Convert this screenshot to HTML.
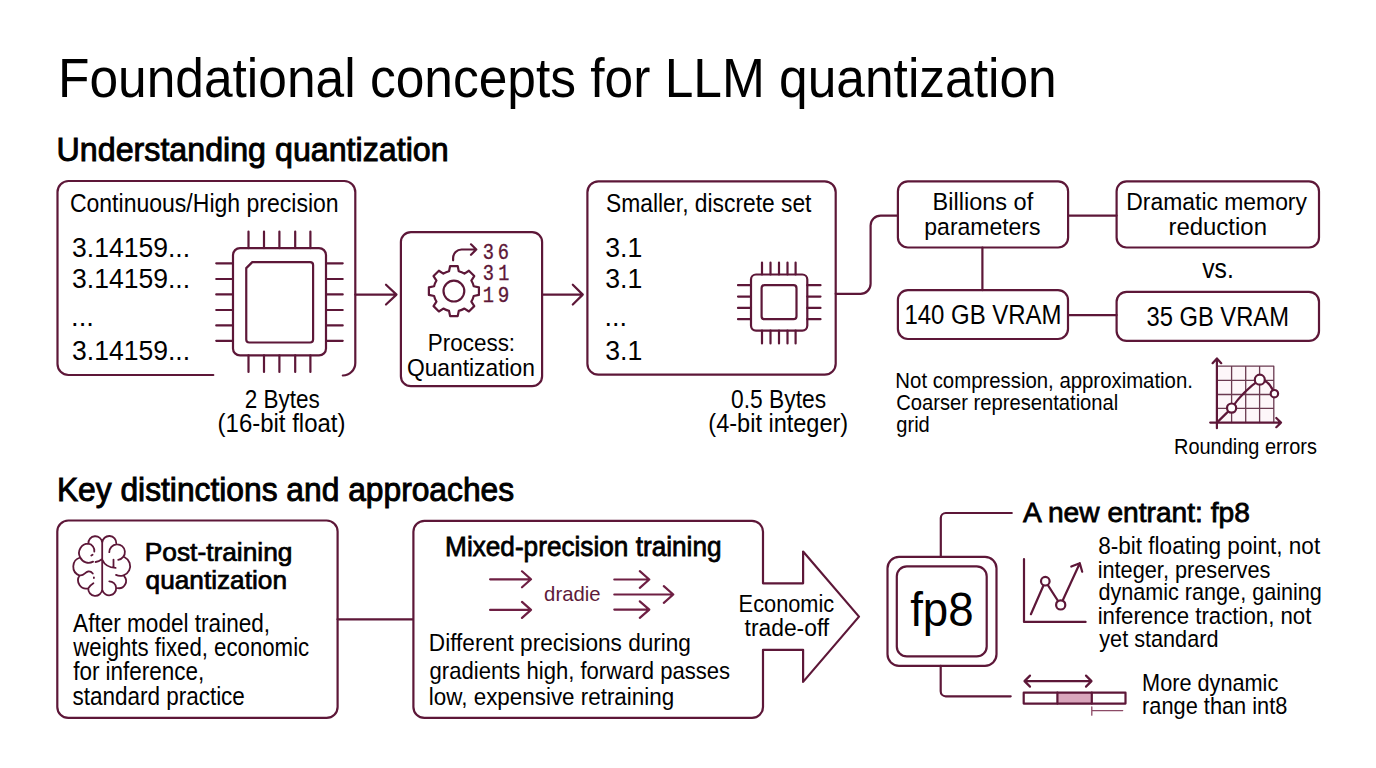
<!DOCTYPE html>
<html><head><meta charset="utf-8"><title>Foundational concepts for LLM quantization</title>
<style>html,body{margin:0;padding:0;background:#fff;width:1376px;height:768px;overflow:hidden}svg{display:block}</style></head>
<body><svg width="1376" height="768" viewBox="0 0 1376 768">
<rect width="1376" height="768" fill="#fff"/>
<g fill="none" stroke="#5d1738" stroke-width="2.2" stroke-linecap="round" stroke-linejoin="round">
<path d="M213.3 375 H68.5 A11 11 0 0 1 57.5 364 V192 A11 11 0 0 1 68.5 181 H344.3 A11 11 0 0 1 355.3 192 V363 A12.5 12.5 0 0 1 342.8 375.5"/>
<rect x="233" y="248.1" width="93" height="107.3" rx="7"/>
<path d="M252.25 262.1 H310.1 A3 3 0 0 1 313.1 265.1 V339.5 A3 3 0 0 1 310.1 342.5 H249.25 A3 3 0 0 1 246.25 339.5 V268.1 Z"/>
<path d="M248.5 231.5 V248.1 M248.5 355.4 V372"/>
<path d="M264 231.5 V248.1 M264 355.4 V372"/>
<path d="M279.4 231.5 V248.1 M279.4 355.4 V372"/>
<path d="M295.2 231.5 V248.1 M295.2 355.4 V372"/>
<path d="M310.4 231.5 V248.1 M310.4 355.4 V372"/>
<path d="M216.25 263.3 H233 M326 263.3 H342.7"/>
<path d="M216.25 279 H233 M326 279 H342.7"/>
<path d="M216.25 294.4 H233 M326 294.4 H342.7"/>
<path d="M216.25 310 H233 M326 310 H342.7"/>
<path d="M216.25 325.4 H233 M326 325.4 H342.7"/>
<path d="M216.25 340.8 H233 M326 340.8 H342.7"/>
<path d="M355.3 294.6 H396.5 M386 284.7 L396.5 294.6 L386 304.5"/>
<rect x="400.9" y="232.1" width="141.2" height="154.1" rx="10"/>
<path d="M449.03 271.29 L450.12 266.08 L457.68 266.08 L458.77 271.29 A20.4 20.4 0 0 1 464.47 273.65 L468.91 270.74 L474.26 276.09 L471.35 280.53 A20.4 20.4 0 0 1 473.71 286.23 L478.92 287.32 L478.92 294.88 L473.71 295.97 A20.4 20.4 0 0 1 471.35 301.67 L474.26 306.11 L468.91 311.46 L464.47 308.55 A20.4 20.4 0 0 1 458.77 310.91 L457.68 316.12 L450.12 316.12 L449.03 310.91 A20.4 20.4 0 0 1 443.33 308.55 L438.89 311.46 L433.54 306.11 L436.45 301.67 A20.4 20.4 0 0 1 434.09 295.97 L428.88 294.88 L428.88 287.32 L434.09 286.23 A20.4 20.4 0 0 1 436.45 280.53 L433.54 276.09 L438.89 270.74 L443.33 273.65 A20.4 20.4 0 0 1 449.03 271.29 Z"/>
<circle cx="453.9" cy="291.1" r="10.4"/>
<path d="M453.1 260.3 V258 A8.5 8.5 0 0 1 461.6 249.5 H476.3 M471 244.3 L476.3 249.5 L471 254.8"/>
<path d="M542.1 294.6 H582.8 M572.8 284.7 L582.8 294.6 L572.8 304.5"/>
<rect x="587.4" y="181.3" width="248.3" height="193.4" rx="11"/>
<rect x="751" y="274.5" width="56.3" height="56.1" rx="5"/>
<rect x="761.6" y="285.2" width="34.9" height="34" rx="3"/>
<path d="M762 262.6 V274.5 M762 330.6 V343.4"/>
<path d="M770.5 262.6 V274.5 M770.5 330.6 V343.4"/>
<path d="M779 262.6 V274.5 M779 330.6 V343.4"/>
<path d="M787.5 262.6 V274.5 M787.5 330.6 V343.4"/>
<path d="M795.6 262.6 V274.5 M795.6 330.6 V343.4"/>
<path d="M738 285.2 H751 M807.3 285.2 H820.5"/>
<path d="M738 296.6 H751 M807.3 296.6 H820.5"/>
<path d="M738 307.9 H751 M807.3 307.9 H820.5"/>
<path d="M738 319.2 H751 M807.3 319.2 H820.5"/>
<path d="M835.7 293.8 H860.6 A10 10 0 0 0 870.6 283.8 V225.6 A10 10 0 0 1 880.6 215.6 H897.9"/>
<rect x="897.9" y="181.4" width="170.2" height="66.1" rx="10"/>
<rect x="1116.6" y="181.4" width="202.4" height="66.1" rx="10"/>
<rect x="897.9" y="290.1" width="170.1" height="48.9" rx="10"/>
<rect x="1116.6" y="291.8" width="202.4" height="49.1" rx="10"/>
<path d="M1068.1 215.6 H1116.6 M982.4 247.5 V290.1 M1068 315.1 H1116.6"/>
<rect x="1217" y="366.2" width="56.8" height="56.4" fill="#fdf6f9" stroke="none"/>
<path d="M1231.6 366.2 V422.6 M1245.7 366.2 V422.6 M1259.6 366.2 V422.6 M1273.8 366.2 V422.6 M1216.9 366.2 H1273.8 M1216.9 380.3 H1273.8 M1216.9 394.5 H1273.8 M1216.9 408.4 H1273.8" stroke-width="1.3" stroke="#6a3a50"/>
<path d="M1216.9 428.2 V358.6 M1212.6 363.2 L1216.9 358.4 L1221.2 363.2 M1210.2 422.6 H1281 M1276.3 418 L1281 422.6 L1276.3 427.2"/>
<path d="M1216.9 422.6 L1231.6 408.1 Q1243.3 391.1 1259.8 379.7 Q1269.1 379.7 1274.4 393.7"/>
<circle cx="1231.6" cy="408.1" r="4.6" fill="#fff"/>
<circle cx="1259.8" cy="379.7" r="5" fill="#fff"/>
<circle cx="1274.4" cy="393.7" r="3.7" fill="#fff"/>
<rect x="57.3" y="520.5" width="280.3" height="197.4" rx="11"/>
<path d="M337.5 619.3 H413"/>
<path d="M424.4 520.8 H752 A11 11 0 0 1 763 531.8 V583.3 H803.1 V551.5 L859 616.6 L803.1 681.9 V649.8 H763 V706.9 A11 11 0 0 1 752 717.9 H424.4 A11 11 0 0 1 413.4 706.9 V531.8 A11 11 0 0 1 424.4 520.8 Z"/>
<path d="M490.1 579.3 H531 M522 571.3 L531 579.3 L522 587.3" stroke="#6e1f43"/>
<path d="M490.1 609.9 H531 M522 601.9 L531 609.9 L522 617.9" stroke="#6e1f43"/>
<path d="M614.3 579.5 H649.3 M639.8 571.2 L649.3 579.5 L639.8 587.8" stroke="#6e1f43"/>
<path d="M614.3 594.5 H673.3 M663.8 586.2 L673.3 594.5 L663.8 602.8" stroke="#6e1f43"/>
<path d="M614.3 609.6 H649.3 M639.8 601.3000000000001 L649.3 609.6 L639.8 617.9" stroke="#6e1f43"/>
<path d="M102.2 590 V541.5 M102.2 542.6 A6.8 6.8 0 0 0 88.4 543.7 A9.3 9.3 0 0 0 80.2 557.5 A9.5 9.5 0 0 0 79.6 575.6 A8.2 8.2 0 0 0 88.3 588.3 A6.9 6.9 0 0 0 102.2 589.5 M80.2 557.5 A9.3 9.3 0 0 0 93.1 561.6 M95.6 562 Q99 561.5 102.2 559 M88.4 543.7 A7 7 0 0 1 94.3 551.6 M91.3 555.6 L92.6 554.8 M80 575.3 C84 576 85 572 88 571.5 C90.5 571 92 572.5 92.8 573.5 M93.9 577.3 V578.1 M88.3 588.3 Q90.5 585 93.4 583.3 M102.2 542.6 A6.8 6.8 0 0 1 116.3 543.5 M109.3 552.2 A7.8 7.8 0 1 1 118.2 559.8 M124.6 557.2 A9 9 0 1 1 116 574.9 M124.3 576.3 A7.2 7.2 0 0 1 117.7 588.1 M102.4 590.2 A7 7 0 1 0 109.3 581.3 M113.5 559.6 V567 M102.2 559.5 Q105.5 567.5 115.6 567.9" stroke-width="1.8"/>
<rect x="887.5" y="556.8" width="109" height="109" rx="11.5"/>
<rect x="896.8" y="566.4" width="89.9" height="90" rx="10"/>
<path d="M940.8 556.8 V518 A5 5 0 0 1 945.8 513 H1011.8 M940.7 665.8 V691.3 A5 5 0 0 0 945.7 696.3 H1010.7"/>
<path d="M1024 559 V621.9 H1085.6"/>
<path d="M1030.9 614.2 L1045.3 581.2 L1060.6 605 L1079.8 563.2 M1071.3 566.6 L1079.8 563.2 L1082.2 571.8"/>
<circle cx="1045.3" cy="581.2" r="4.3" fill="#fff"/>
<circle cx="1060.7" cy="604.9" r="4.6" fill="#fff"/>
<path d="M1024.5 681.1 H1091.5 M1030 675.6 L1024.5 681.1 L1030 686.6 M1086 675.6 L1091.5 681.1 L1086 686.6"/>
<rect x="1057.4" y="692.7" width="34.4" height="10.9" fill="#d9a6bc" stroke="none"/>
<rect x="1023.7" y="692.7" width="101.8" height="10.9" fill="none"/>
<path d="M1057.4 692.7 V703.6 M1091.8 692.7 V703.6"/>
<path d="M1091.8 706.8 V715.2 M1091.8 710.6 H1122.7" stroke="#8c4a66" stroke-width="1.3"/>
</g>
<g>
<text transform="translate(57.94 96.9) scale(0.9397 1)" font-size="54.80" font-family="Liberation Sans" fill="#000">Foundational concepts for LLM quantization</text>
<text transform="translate(56.56 160.6) scale(0.9693 1)" font-size="33.24" font-family="Liberation Sans" fill="#000" stroke="#000" stroke-width="0.93">Understanding quantization</text>
<text transform="translate(69.88 211.9) scale(0.9155 1)" font-size="25.15" font-family="Liberation Sans" fill="#000">Continuous/High precision</text>
<text transform="translate(72.12 256.8) scale(0.9821 1)" font-size="27.03" font-family="Liberation Sans" fill="#000">3.14159...</text>
<text transform="translate(72.12 287.8) scale(0.9821 1)" font-size="27.03" font-family="Liberation Sans" fill="#000">3.14159...</text>
<text transform="translate(71.07 326.4) scale(1.0167 1)" font-size="27.03" font-family="Liberation Sans" fill="#000">...</text>
<text transform="translate(72.12 360.2) scale(0.9821 1)" font-size="27.03" font-family="Liberation Sans" fill="#000">3.14159...</text>
<text transform="translate(244.80 407.5) scale(0.9000 1)" font-size="25.00" font-family="Liberation Sans" fill="#000">2 Bytes</text>
<text transform="translate(217.58 432.4) scale(0.9592 1)" font-size="25.00" font-family="Liberation Sans" fill="#000">(16-bit float)</text>
<text transform="translate(427.86 350.8) scale(0.9187 1)" font-size="24.42" font-family="Liberation Sans" fill="#000">Process:</text>
<text transform="translate(406.97 375.8) scale(0.9341 1)" font-size="24.42" font-family="Liberation Sans" fill="#000">Quantization</text>
<text transform="translate(482.65 258.75) scale(0.8545 1)" font-size="21.85" font-family="Liberation Mono" fill="#5d1738" stroke="#5d1738" stroke-width="0.35">3</text>
<text transform="translate(497.75 258.75) scale(0.8545 1)" font-size="21.85" font-family="Liberation Mono" fill="#5d1738" stroke="#5d1738" stroke-width="0.35">6</text>
<text transform="translate(482.65 280.1) scale(0.8545 1)" font-size="21.85" font-family="Liberation Mono" fill="#5d1738" stroke="#5d1738" stroke-width="0.35">3</text>
<text transform="translate(498.35 280.1) scale(0.8455 1)" font-size="21.85" font-family="Liberation Mono" fill="#5d1738" stroke="#5d1738" stroke-width="0.35">1</text>
<text transform="translate(482.65 302.3) scale(0.8545 1)" font-size="21.85" font-family="Liberation Mono" fill="#5d1738" stroke="#5d1738" stroke-width="0.35">1</text>
<text transform="translate(497.72 302.3) scale(0.8818 1)" font-size="21.85" font-family="Liberation Mono" fill="#5d1738" stroke="#5d1738" stroke-width="0.35">9</text>
<text transform="translate(606.09 211.9) scale(0.9129 1)" font-size="25.00" font-family="Liberation Sans" fill="#000">Smaller, discrete set</text>
<text transform="translate(605.31 256.8) scale(0.9857 1)" font-size="27.03" font-family="Liberation Sans" fill="#000">3.1</text>
<text transform="translate(605.31 287.7) scale(0.9857 1)" font-size="27.03" font-family="Liberation Sans" fill="#000">3.1</text>
<text transform="translate(604.60 326.3) scale(1.0000 1)" font-size="27.03" font-family="Liberation Sans" fill="#000">...</text>
<text transform="translate(605.31 360.3) scale(0.9857 1)" font-size="27.03" font-family="Liberation Sans" fill="#000">3.1</text>
<text transform="translate(731.09 407.5) scale(0.9118 1)" font-size="25.00" font-family="Liberation Sans" fill="#000">0.5 Bytes</text>
<text transform="translate(708.32 432.4) scale(0.9414 1)" font-size="25.00" font-family="Liberation Sans" fill="#000">(4-bit integer)</text>
<text transform="translate(932.59 209.9) scale(0.9573 1)" font-size="24.56" font-family="Liberation Sans" fill="#000">Billions of</text>
<text transform="translate(924.33 235.2) scale(0.9361 1)" font-size="24.56" font-family="Liberation Sans" fill="#000">parameters</text>
<text transform="translate(1126.34 209.9) scale(0.9323 1)" font-size="24.56" font-family="Liberation Sans" fill="#000">Dramatic memory</text>
<text transform="translate(1168.45 235.2) scale(0.9753 1)" font-size="24.56" font-family="Liberation Sans" fill="#000">reduction</text>
<text transform="translate(1202.20 278.2) scale(0.9187 1)" font-size="26.89" font-family="Liberation Sans" fill="#000">vs.</text>
<text transform="translate(904.47 323.9) scale(0.8672 1)" font-size="27.62" font-family="Liberation Sans" fill="#000">140 GB VRAM</text>
<text transform="translate(1146.44 325.9) scale(0.8595 1)" font-size="27.62" font-family="Liberation Sans" fill="#000">35 GB VRAM</text>
<text transform="translate(895.36 387.9) scale(0.9219 1)" font-size="22.09" font-family="Liberation Sans" fill="#000">Not compression, approximation.</text>
<text transform="translate(896.29 409.9) scale(0.9137 1)" font-size="22.09" font-family="Liberation Sans" fill="#000">Coarser representational</text>
<text transform="translate(896.29 432.4) scale(0.9086 1)" font-size="22.09" font-family="Liberation Sans" fill="#000">grid</text>
<text transform="translate(1174.03 453.6) scale(0.8849 1)" font-size="22.53" font-family="Liberation Sans" fill="#000">Rounding errors</text>
<text transform="translate(56.89 500.6) scale(0.9557 1)" font-size="33.24" font-family="Liberation Sans" fill="#000" stroke="#000" stroke-width="0.93">Key distinctions and approaches</text>
<text transform="translate(144.75 561.4) scale(1.0241 1)" font-size="25.70" font-family="Liberation Sans" fill="#000" stroke="#000" stroke-width="0.72">Post-training</text>
<text transform="translate(145.58 588.8) scale(1.0206 1)" font-size="25.70" font-family="Liberation Sans" fill="#000" stroke="#000" stroke-width="0.72">quantization</text>
<text transform="translate(73.10 631.6) scale(0.9037 1)" font-size="25.00" font-family="Liberation Sans" fill="#000">After model trained,</text>
<text transform="translate(73.30 655.6) scale(0.8894 1)" font-size="25.00" font-family="Liberation Sans" fill="#000">weights fixed, economic</text>
<text transform="translate(73.20 680.4) scale(0.8979 1)" font-size="25.00" font-family="Liberation Sans" fill="#000">for inference,</text>
<text transform="translate(72.40 704.6) scale(0.9000 1)" font-size="25.00" font-family="Liberation Sans" fill="#000">standard practice</text>
<text transform="translate(445.08 555.6) scale(0.9616 1)" font-size="27.23" font-family="Liberation Sans" fill="#000" stroke="#000" stroke-width="0.76">Mixed-precision training</text>
<text transform="translate(544.12 600.6) scale(0.9768 1)" font-size="20.78" font-family="Liberation Sans" fill="#5e1a3a">dradie</text>
<text transform="translate(428.85 650.8) scale(0.9261 1)" font-size="24.42" font-family="Liberation Sans" fill="#000">Different precisions during</text>
<text transform="translate(429.60 678.5) scale(0.9039 1)" font-size="24.42" font-family="Liberation Sans" fill="#000">gradients high, forward passes</text>
<text transform="translate(428.86 705.1) scale(0.9178 1)" font-size="24.42" font-family="Liberation Sans" fill="#000">low, expensive retraining</text>
<text transform="translate(738.62 612.2) scale(0.8924 1)" font-size="24.42" font-family="Liberation Sans" fill="#000">Economic</text>
<text transform="translate(744.60 636.2) scale(0.9352 1)" font-size="24.42" font-family="Liberation Sans" fill="#000">trade-off</text>
<text transform="translate(910.14 625.7) scale(0.9587 1)" font-size="47.67" font-family="Liberation Sans" fill="#000">fp8</text>
<text transform="translate(1022.90 521.6) scale(0.9930 1)" font-size="28.35" font-family="Liberation Sans" fill="#000" stroke="#000" stroke-width="0.79">A new entrant: fp8</text>
<text transform="translate(1098.15 554.3) scale(0.9472 1)" font-size="23.84" font-family="Liberation Sans" fill="#000">8-bit floating point, not</text>
<text transform="translate(1097.68 577.6) scale(0.9118 1)" font-size="23.84" font-family="Liberation Sans" fill="#000">integer, preserves</text>
<text transform="translate(1098.39 600.4) scale(0.9066 1)" font-size="23.84" font-family="Liberation Sans" fill="#000">dynamic range, gaining</text>
<text transform="translate(1097.63 624.2) scale(0.9326 1)" font-size="23.84" font-family="Liberation Sans" fill="#000">inference traction, not</text>
<text transform="translate(1099.30 647.0) scale(0.9085 1)" font-size="23.84" font-family="Liberation Sans" fill="#000">yet standard</text>
<text transform="translate(1142.08 690.8) scale(0.9102 1)" font-size="23.84" font-family="Liberation Sans" fill="#000">More dynamic</text>
<text transform="translate(1142.07 713.6) scale(0.9141 1)" font-size="23.84" font-family="Liberation Sans" fill="#000">range than int8</text>
</g>
</svg></body></html>
